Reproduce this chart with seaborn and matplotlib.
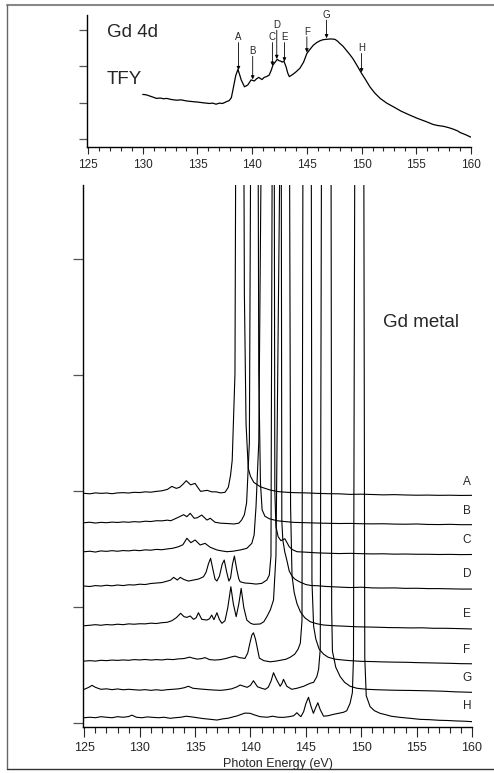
import numpy as np
import pandas as pd
import matplotlib
matplotlib.use("Agg")
import matplotlib.pyplot as plt
from matplotlib.lines import Line2D
from matplotlib.ticker import MultipleLocator
import seaborn as sns

# ---------------- Gd 4d total fluorescence yield ----------------
tfy_energy = [130.0, 130.3, 130.6, 130.9, 131.25, 131.6, 131.9, 132.2, 132.6, 133.1,
              133.5, 134.0, 134.6, 135.0, 135.5, 136.1, 136.4, 136.7, 137.0, 137.3,
              137.65, 137.9, 138.1, 138.3, 138.5, 138.7, 138.85, 139.0, 139.3, 139.6,
              139.9, 140.2, 140.4, 140.6, 140.9, 141.1, 141.3, 141.55, 141.75, 141.9,
              142.1, 142.3, 142.45, 142.6, 142.75, 142.9, 143.1, 143.25, 143.4, 143.75,
              144.0, 144.36, 144.7, 145.0, 145.3, 145.6, 145.9, 146.2, 146.5, 146.8,
              147.2, 147.56, 147.8, 148.0, 148.3, 148.6, 148.9, 149.2, 149.6, 150.0,
              150.4, 150.76, 151.2, 151.7, 152.3, 152.9, 153.6, 154.4, 155.1, 155.9,
              156.55, 157.0, 157.5, 158.0, 158.4, 158.8, 159.0, 159.5, 160.0]
tfy_intensity = [1.23, 1.22, 1.19, 1.16, 1.12, 1.13, 1.11, 1.12, 1.09, 1.07,
                 1.08, 1.05, 1.03, 1.02, 1.00, 0.98, 0.99, 0.96, 0.99, 0.98,
                 1.03, 1.06, 1.14, 1.44, 1.75, 1.92, 1.78, 1.63, 1.44, 1.49,
                 1.63, 1.60, 1.66, 1.70, 1.64, 1.70, 1.72, 1.76, 1.90, 2.04,
                 2.12, 2.20, 2.16, 2.15, 2.12, 2.15, 1.99, 1.82, 1.72, 1.79,
                 1.85, 1.95, 2.12, 2.36, 2.48, 2.59, 2.66, 2.71, 2.74, 2.75,
                 2.76, 2.75, 2.70, 2.64, 2.56, 2.45, 2.34, 2.22, 2.02, 1.81,
                 1.62, 1.44, 1.27, 1.12, 0.99, 0.89, 0.77, 0.66, 0.57, 0.48,
                 0.40, 0.37, 0.35, 0.31, 0.27, 0.22, 0.18, 0.12, 0.05]

# excitation energies marked on the TFY curve
excitation_labels = ["A", "B", "C", "D", "E", "F", "G", "H"]
excitation_energy = [138.75, 140.05, 141.85, 142.25, 142.95, 145.0, 146.8, 150.0]

# ---------------- resonant emission spectra (Gd metal) ----------------
trace_names = ["A", "B", "C", "D", "E", "F", "G", "H"]
trace_offsets = [1.98, 1.727, 1.477, 1.181, 0.839, 0.534, 0.291, 0.046]

energy_A = [125.0, 125.5, 126.0, 126.5, 127.0, 127.5, 128.0, 128.5, 129.0, 129.5, 130.0, 130.5,
            131.0, 131.5, 132.0, 132.5, 132.9, 133.3, 133.6, 133.9, 134.2, 134.6, 135.0, 135.3,
            135.5, 135.8, 136.1, 136.5, 136.9, 137.3, 137.7, 138.0, 138.2, 138.35, 138.6, 138.74,
            139.03, 139.33, 139.45, 139.6, 139.8, 140.0, 140.3, 140.9, 141.8, 142.5, 143.3, 144.0,
            145.0, 146.0, 147.0, 148.0, 149.0, 150.0, 151.0, 152.0, 153.0, 154.0, 155.0, 156.0,
            157.0, 158.0, 159.0, 160.0]
signal_A = [0, -0.004, 0.004, 0, 0.003, -0.003, 0.004, 0.006, 0.003, 0.009, 0.007, 0.013,
            0.01, 0.017, 0.022, 0.034, 0.06, 0.043, 0.052, 0.078, 0.109, 0.073, 0.086, 0.043,
            0.017, 0.022, 0.026, 0.013, 0.013, 0.004, 0.009, 0.052, 0.155, 0.284, 1.03, 5.0,
            12.0, 5.0, 1.72, 0.6, 0.216, 0.147, 0.095, 0.056, 0.028, 0.015, 0.009, 0.006,
            0.004, 0, -0.003, -0.004, -0.009, -0.007, -0.01, -0.013, -0.011, -0.014, -0.016, -0.015,
            -0.017, -0.016, -0.018, -0.017]

energy_B = [125.0, 125.5, 126.0, 126.5, 127.0, 127.5, 128.0, 128.5, 129.0, 129.5, 130.0, 130.5,
            131.0, 131.5, 132.0, 132.5, 132.8, 133.2, 133.6, 133.96, 134.26, 134.56, 134.92, 135.2,
            135.6, 136.07, 136.37, 136.8, 137.3, 137.9, 138.5, 138.95, 139.2, 139.45, 139.65, 139.9,
            140.1, 140.35, 140.64, 140.75, 140.9, 141.05, 141.3, 141.7, 142.4, 143.2, 143.9, 145.0,
            146.0, 147.0, 148.0, 149.0, 150.0, 151.0, 152.0, 153.0, 154.0, 155.0, 156.0, 157.0,
            158.0, 159.0, 160.0]
signal_B = [0, 0.004, -0.003, 0.003, 0, 0.005, 0.002, 0.007, 0.004, 0.009, 0.006, 0.013,
            0.01, 0.017, 0.016, 0.022, 0.017, 0.034, 0.052, 0.069, 0.052, 0.081, 0.038, 0.043,
            0.066, 0.023, 0.038, 0.004, -0.004, -0.007, -0.011, -0.004, 0.023, 0.069, 0.172, 0.69,
            5.0, 12.0, 5.0, 1.29, 0.345, 0.112, 0.056, 0.034, 0.017, 0.009, 0.003, 0,
            -0.003, -0.005, -0.007, -0.006, -0.009, -0.01, -0.009, -0.012, -0.013, -0.011, -0.015, -0.016,
            -0.014, -0.017, -0.017]

energy_C = [125.0, 125.5, 126.0, 126.5, 127.0, 127.5, 128.0, 128.5, 129.0, 129.5, 130.0, 130.5,
            131.0, 131.5, 132.0, 132.5, 133.0, 133.5, 133.9, 134.26, 134.62, 135.0, 135.46, 135.9,
            136.37, 136.97, 137.4, 137.87, 138.4, 139.07, 139.67, 140.12, 140.33, 140.5, 140.75, 141.1,
            141.62, 142.12, 142.2, 142.3, 142.5, 142.75, 143.1, 143.3, 143.5, 143.8, 144.2, 145.0,
            146.0, 147.0, 148.0, 149.0, 150.0, 151.0, 152.0, 153.0, 154.0, 155.0, 156.0, 157.0,
            158.0, 159.0, 160.0]
signal_C = [0, 0.004, -0.003, 0.007, 0.003, 0.009, 0.004, 0.01, 0.007, 0.013, 0.009, 0.016,
            0.013, 0.02, 0.017, 0.024, 0.03, 0.043, 0.06, 0.116, 0.078, 0.101, 0.058, 0.072,
            0.038, 0.015, 0.007, 0, 0.004, 0.015, 0.029, 0.072, 0.144, 0.388, 0.948, 5.0,
            12.0, 5.0, 0.52, 0.216, 0.129, 0.095, 0.112, 0.078, 0.043, 0.017, 0, -0.004,
            -0.01, -0.013, -0.016, -0.014, -0.017, -0.019, -0.018, -0.021, -0.02, -0.022, -0.022, -0.024,
            -0.023, -0.025, -0.024]

energy_D = [125.0, 125.5, 126.0, 126.5, 127.0, 127.5, 128.0, 128.5, 129.0, 129.5, 130.0, 130.5,
            131.0, 131.5, 132.0, 132.5, 132.8, 133.06, 133.4, 133.66, 134.0, 134.4, 134.86, 135.3,
            135.76, 136.0, 136.2, 136.4, 136.6, 136.8, 136.97, 137.2, 137.45, 137.63, 137.85, 138.05,
            138.2, 138.38, 138.55, 138.77, 138.95, 139.07, 139.5, 139.97, 140.5, 141.02, 141.48, 141.7,
            141.85, 142.0, 142.38, 142.76, 142.83, 142.92, 143.1, 143.28, 143.5, 143.75, 144.0, 144.48,
            145.0, 145.5, 146.0, 146.89, 148.0, 149.0, 150.0, 151.0, 152.0, 153.0, 154.0, 155.0,
            156.0, 157.0, 158.0, 159.0, 160.0]
signal_D = [0, -0.004, 0.004, 0, 0.007, 0.002, 0.009, 0.004, 0.011, 0.009, 0.016, 0.013,
            0.022, 0.026, 0.03, 0.043, 0.052, 0.075, 0.052, 0.075, 0.056, 0.043, 0.052, 0.06,
            0.08, 0.121, 0.19, 0.239, 0.147, 0.06, 0.043, 0.086, 0.19, 0.224, 0.121, 0.043,
            0.069, 0.19, 0.259, 0.138, 0.06, 0.037, 0.026, 0.023, 0.017, 0.023, 0.052, 0.095,
            0.259, 5.0, 12.0, 5.0, 0.56, 0.397, 0.293, 0.224, 0.129, 0.086, 0.06, 0.034,
            0.013, 0.004, 0.003, -0.004, -0.009, -0.013, -0.01, -0.016, -0.017, -0.016, -0.02, -0.019,
            -0.022, -0.022, -0.024, -0.026, -0.026]

energy_E = [125.0, 125.5, 126.0, 126.5, 127.0, 127.5, 128.0, 128.5, 129.0, 129.5, 130.0, 130.5,
            131.0, 131.5, 132.0, 132.5, 132.9, 133.3, 133.7, 134.0, 134.26, 134.56, 134.86, 135.1,
            135.3, 135.6, 136.07, 136.3, 136.5, 136.7, 136.97, 137.2, 137.42, 137.7, 137.95, 138.23,
            138.45, 138.71, 138.95, 139.16, 139.4, 139.67, 140.0, 140.27, 140.87, 141.2, 141.48, 141.8,
            142.08, 142.3, 142.75, 143.1, 143.5, 143.62, 143.75, 143.95, 144.2, 144.5, 144.9, 145.4,
            146.0, 146.6, 147.5, 148.5, 149.5, 150.5, 151.5, 152.5, 153.5, 154.5, 155.5, 156.5,
            157.5, 158.5, 159.3, 160.0]
signal_E = [0, 0.004, 0.009, 0.004, 0.01, 0.007, 0.013, 0.009, 0.016, 0.013, 0.017, 0.016,
            0.022, 0.019, 0.026, 0.03, 0.043, 0.069, 0.107, 0.078, 0.072, 0.084, 0.055, 0.069,
            0.112, 0.055, 0.049, 0.06, 0.092, 0.052, 0.112, 0.052, 0.021, 0.043, 0.155, 0.336,
            0.19, 0.078, 0.19, 0.322, 0.155, 0.049, 0.022, 0.012, 0.015, 0.034, 0.078, 0.138,
            0.222, 0.603, 5.0, 12.0, 5.0, 1.03, 0.431, 0.284, 0.19, 0.121, 0.069, 0.034,
            0.017, 0.006, 0, -0.004, -0.009, -0.011, -0.013, -0.016, -0.017, -0.019, -0.018, -0.022,
            -0.022, -0.024, -0.026, -0.028]

energy_F = [125.0, 125.5, 126.0, 126.5, 127.0, 127.5, 128.0, 128.5, 129.0, 129.5, 130.0, 130.5,
            131.0, 131.5, 132.0, 132.5, 133.0, 133.5, 134.0, 134.5, 134.8, 135.2, 135.6, 135.9,
            136.3, 136.8, 137.3, 137.8, 138.2, 138.6, 139.0, 139.5, 139.75, 139.95, 140.12, 140.27,
            140.45, 140.6, 140.8, 141.2, 141.78, 142.3, 142.8, 143.2, 143.6, 144.0, 144.3, 144.5,
            144.65, 144.75, 145.1, 145.48, 145.55, 145.7, 145.9, 146.2, 146.6, 147.0, 147.6, 148.4,
            149.0, 150.0, 151.0, 152.0, 153.0, 154.0, 155.0, 156.0, 157.0, 158.0, 159.0, 160.0]
signal_F = [0, 0.004, 0, 0.007, 0.004, 0.009, 0.006, 0.01, 0.007, 0.013, 0.01, 0.014,
            0.009, 0.013, 0.01, 0.016, 0.013, 0.019, 0.022, 0.034, 0.026, 0.017, 0.022, 0.03,
            0.013, 0.009, 0.013, 0.023, 0.034, 0.043, 0.03, 0.023, 0.069, 0.155, 0.224, 0.244,
            0.19, 0.121, 0.026, 0.004, -0.006, 0, 0.009, 0.016, 0.034, 0.06, 0.103, 0.155,
            0.345, 5.0, 12.0, 5.0, 0.69, 0.302, 0.19, 0.103, 0.06, 0.034, 0.017, 0.009,
            0.004, -0.002, -0.004, -0.007, -0.009, -0.01, -0.013, -0.015, -0.017, -0.019, -0.022, -0.023]

energy_G = [125.0, 125.4, 125.7, 126.0, 126.5, 127.0, 127.5, 128.0, 128.5, 129.0, 129.5, 130.0,
            130.5, 131.0, 131.5, 132.0, 132.5, 133.0, 133.5, 134.0, 134.4, 134.8, 135.3, 135.8,
            136.3, 136.8, 137.3, 137.8, 138.3, 138.8, 139.07, 139.4, 139.7, 140.0, 140.27, 140.63,
            141.0, 141.33, 141.6, 141.85, 142.08, 142.3, 142.44, 142.68, 142.85, 142.98, 143.15, 143.28,
            143.73, 144.2, 144.8, 145.39, 145.7, 145.99, 146.15, 146.3, 146.42, 146.85, 147.27, 147.33,
            147.4, 147.7, 148.1, 148.5, 149.0, 149.6, 150.5, 151.5, 152.5, 153.5, 154.5, 155.5,
            156.5, 157.5, 158.5, 159.3, 160.0]
signal_G = [0, 0.017, 0.034, 0.017, 0, 0.004, -0.003, 0.003, -0.004, 0, -0.004, -0.007,
            -0.003, -0.009, -0.004, -0.009, -0.003, 0, 0.004, 0.013, 0.026, 0.009, 0.004, 0,
            -0.004, -0.007, -0.009, -0.004, 0.004, 0.022, 0.037, 0.026, 0.017, 0.034, 0.074, 0.022,
            0.009, 0, 0.017, 0.069, 0.143, 0.095, 0.069, 0.026, 0.052, 0.086, 0.052, 0.026,
            0, 0.009, 0.026, 0.052, 0.06, 0.109, 0.172, 0.345, 5.0, 12.0, 5.0, 0.69,
            0.328, 0.19, 0.109, 0.06, 0.026, 0.009, 0, -0.004, -0.007, -0.009, -0.01, -0.012,
            -0.014, -0.017, -0.022, -0.024, -0.026]

energy_H = [125.0, 125.5, 126.0, 126.5, 127.0, 127.5, 128.0, 128.5, 129.0, 129.3, 129.7, 130.2,
            130.7, 131.2, 131.7, 132.2, 132.76, 133.2, 133.7, 134.2, 134.7, 135.2, 135.7, 136.3,
            136.97, 137.5, 138.0, 138.5, 138.77, 139.2, 139.5, 139.97, 140.3, 140.87, 141.5, 142.0,
            142.5, 142.98, 143.5, 143.9, 144.19, 144.4, 144.55, 144.8, 145.0, 145.24, 145.45, 145.68,
            145.85, 146.08, 146.3, 146.6, 147.0, 147.49, 148.0, 148.4, 148.69, 148.99, 149.2, 149.3,
            149.42, 149.85, 150.23, 150.32, 150.45, 150.8, 151.2, 151.7, 152.2, 152.7, 153.5, 154.3,
            155.3, 156.2, 157.0, 157.8, 158.6, 159.3, 160.0]
signal_H = [0, 0.004, 0, 0.009, 0.004, 0, 0.009, 0.004, 0.01, 0.022, 0.004, 0,
            0.007, 0.003, 0, 0.004, -0.005, 0, 0.004, 0.013, 0.007, 0, -0.007, -0.013,
            -0.02, -0.01, -0.004, 0.009, 0.015, 0.03, 0.04, 0.038, 0.026, 0.009, 0.004, 0.013,
            0.004, 0.003, 0.009, 0.017, 0.043, 0.022, 0.009, 0.052, 0.121, 0.176, 0.103, 0.038,
            0.078, 0.129, 0.069, 0.013, 0.017, 0.029, 0.039, 0.047, 0.06, 0.124, 0.216, 0.517,
            5.0, 12.0, 5.0, 0.517, 0.19, 0.095, 0.06, 0.038, 0.026, 0.013, 0.003, -0.004,
            -0.014, -0.017, -0.022, -0.024, -0.028, -0.03, -0.034]

trace_energy = [energy_A, energy_B, energy_C, energy_D, energy_E, energy_F, energy_G, energy_H]
trace_signal = [signal_A, signal_B, signal_C, signal_D, signal_E, signal_F, signal_G, signal_H]

frames = []
for name, off, e, s in zip(trace_names, trace_offsets, trace_energy, trace_signal):
    frames.append(pd.DataFrame({"trace": name, "energy": e,
                                "intensity": np.asarray(s) + off}))
spectra = pd.DataFrame(pd.concat(frames, ignore_index=True))

# ---------------- styling ----------------
sns.set_style("ticks")
plt.rcParams["font.family"] = ["Liberation Sans", "DejaVu Sans"]

W, H = 494, 773
fig = plt.figure(figsize=(W / 100, H / 100), dpi=100)


def fig_rect(x0, y0, x1, y1):
    return [x0 / W, 1 - y1 / H, (x1 - x0) / W, (y1 - y0) / H]


ax_top = fig.add_axes(fig_rect(86.7, 15, 471, 147))
ax_bot = fig.add_axes(fig_rect(83, 185, 472, 727))

# top panel: TFY
sns.lineplot(x=tfy_energy, y=tfy_intensity, ax=ax_top, color="black", lw=0.9)
tip_y = np.interp(excitation_energy, tfy_energy, tfy_intensity)
label_y = [2.80, 2.42, 2.80, 3.14, 2.80, 2.96, 3.42, 2.50]
for lab, ex, ty, ly in zip(excitation_labels, excitation_energy, tip_y, label_y):
    ax_top.annotate("", xy=(ex, ty + 0.03), xytext=(ex, ly - 0.14),
                    arrowprops=dict(arrowstyle="-|>", lw=0.6, color="black",
                                    mutation_scale=5, shrinkA=0, shrinkB=0))
    ax_top.text(ex, ly, lab, ha="center", va="center", fontsize=7)
ax_top.text(0.052, 0.864, "Gd 4d", transform=ax_top.transAxes, fontsize=13.5,
            ha="left", va="center")
ax_top.text(0.052, 0.508, "TFY", transform=ax_top.transAxes, fontsize=13.5,
            ha="left", va="center")
ax_top.set_xlim(124.88, 160)
ax_top.set_ylim(-0.22, 3.42)
ax_top.set_yticks([0, 1, 2, 3])
ax_top.set_yticklabels([])
ax_top.xaxis.set_major_locator(MultipleLocator(5))
ax_top.xaxis.set_minor_locator(MultipleLocator(1))
ax_top.tick_params(axis="x", which="major", length=5, width=0.8, labelsize=8.5, pad=4)
ax_top.tick_params(axis="x", which="minor", length=3, width=0.8)
ax_top.tick_params(axis="y", length=6, width=0.9, color="#555555")

# bottom panel: stacked emission spectra
sns.lineplot(data=spectra, x="energy", y="intensity", units="trace", estimator=None,
             sort=False, ax=ax_bot, color="black", lw=0.8)
for name, off in zip(trace_names, trace_offsets):
    ax_bot.text(159.55, off + 0.1, name, ha="center", va="center", fontsize=8.5)
ax_bot.text(0.771, 0.747, "Gd metal", transform=ax_bot.transAxes, fontsize=13.5,
            ha="left", va="center")
ax_bot.set_xlim(124.88, 160)
ax_bot.set_ylim(-0.034, 4.638)
ax_bot.set_yticks([0, 1, 2, 3, 4])
ax_bot.set_yticklabels([])
ax_bot.xaxis.set_major_locator(MultipleLocator(5))
ax_bot.xaxis.set_minor_locator(MultipleLocator(1))
ax_bot.tick_params(axis="x", which="major", length=7, width=0.8, labelsize=9, pad=4)
ax_bot.tick_params(axis="x", which="minor", length=4.3, width=0.8)
ax_bot.tick_params(axis="y", length=7, width=0.9, color="#555555")
ax_bot.set_xlabel("Photon Energy (eV)", fontsize=9, labelpad=3)
ax_bot.set_ylabel("")

for ax in (ax_top, ax_bot):
    sns.despine(ax=ax)
    for side in ("left", "bottom"):
        ax.spines[side].set_linewidth(1.0)
        ax.spines[side].set_color("black")

# outer frame
fx0 = 6.5 / W
fy_top = 1 - 4.5 / H
fy_bot = 1 - 769 / H
fig.add_artist(Line2D([fx0, 1], [fy_top, fy_top], transform=fig.transFigure,
                      color="#888888", lw=1.5))
fig.add_artist(Line2D([fx0, fx0], [fy_top, fy_bot], transform=fig.transFigure,
                      color="#666666", lw=1.0))
fig.add_artist(Line2D([fx0, 1], [fy_bot, fy_bot], transform=fig.transFigure,
                      color="#333333", lw=1.0))

fig.savefig("out.png", dpi=100)
